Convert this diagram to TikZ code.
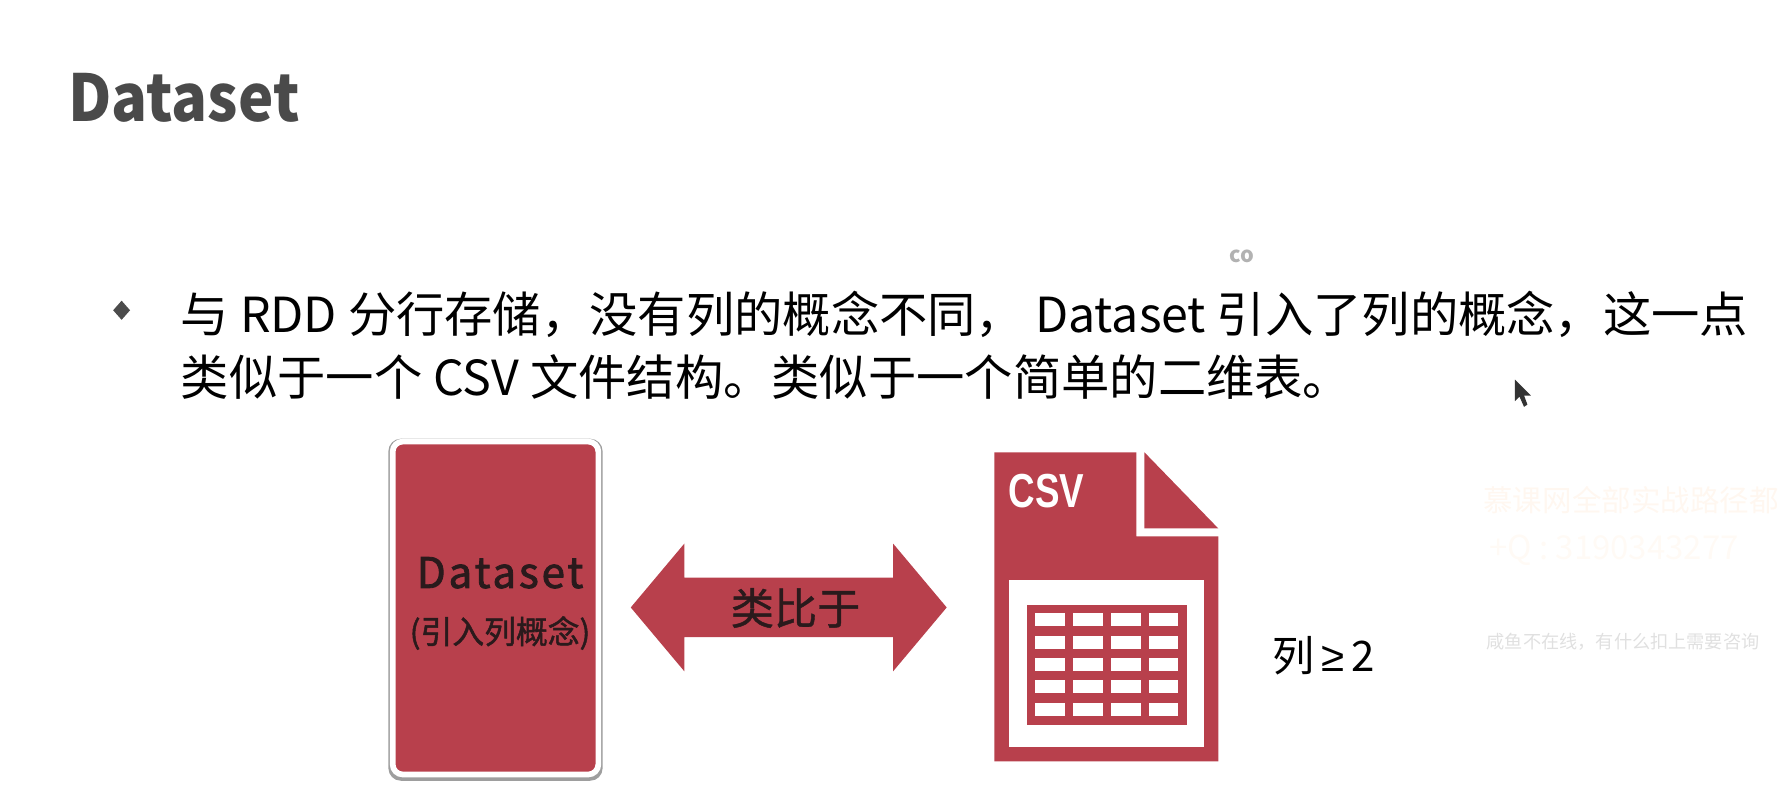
\documentclass[tikz,border=0pt]{standalone}
\usepackage{fontspec}
\setmainfont{Noto Sans CJK SC}
\newfontfamily\titlefont[FakeStretch=0.92]{Noto Sans CJK SC}
\newfontfamily\csvfont[FakeStretch=0.77]{Liberation Sans}
\newfontfamily\symbolfont{Liberation Sans}
\usepackage{xcolor}
\usetikzlibrary{shapes.geometric, shapes.arrows, positioning}
\definecolor{brick}{HTML}{B8404C}
\definecolor{titlegrey}{HTML}{4A4A4A}
\definecolor{inkdark}{HTML}{2A1A1C}

\begin{document}
\begin{tikzpicture}[
    x=1pt, y=-1pt,
    titletext/.style={anchor=base west, inner sep=0pt, text=titlegrey, font=\titlefont\bfseries\fontsize{57}{60}\selectfont},
    bodyline/.style={anchor=base west, inner sep=0pt, font=\fontsize{42.5}{50}\selectfont},
    dsshadow/.style={rectangle, fill=black!38, rounded corners=11pt, minimum width=188.5pt, minimum height=301pt, inner sep=0pt},
    dsbox/.style={rectangle, draw=white, line width=5pt, fill=brick, rounded corners=9pt, minimum width=181pt, minimum height=293pt, inner sep=0pt},
    boxlabel/.style={inner sep=0pt, text=inkdark},
    simarrow/.style={double arrow, fill=brick, inner sep=0pt, text height=26pt, text depth=26pt, minimum height=278pt, double arrow head extend=30pt, double arrow tip angle=100},
    faint/.style={anchor=west, inner sep=0pt}
]
\useasboundingbox (0,0) rectangle (1568,693.4);

\node[titletext] (title) at (60,107) {Dataset};
\node[text=black!30, inner sep=0pt, font=\rmfamily\bfseries\fontsize{19}{20}\selectfont] (co) at (1093,226) {co};

\node[diamond, fill=black!70, inner sep=0pt, minimum width=15pt, minimum height=17pt] (bullet) at (107,273) {};
\node[bodyline] (lineone) at (159,293) {与 RDD 分行存储，没有列的概念不同， Dataset 引入了列的概念，这一点};
\node[bodyline] (linetwo) at (159,348) {类似于一个 CSV 文件结构。类似于一个简单的二维表。};

\node[dsshadow] (dsback) at (436,536.5) {};
\node[dsbox] (dsrect) at (436,535) {};
\node[boxlabel, font=\addfontfeature{LetterSpace=7,FakeBold=2}\fontsize{37}{40}\selectfont] (dsname) at (440,504) {Dataset};
\node[boxlabel, font=\addfontfeature{FakeBold=1.5}\fontsize{28}{30}\selectfont] (dsnote) at (440,557) {(引入列概念)};

\node[simarrow] (similar) at (694,534.5) {};
\node[boxlabel, font=\addfontfeature{FakeBold=1}\fontsize{38}{40}\selectfont] (similartext) at (700,535) {类比于};

\fill[brick] (875,398) -- (1000,398) -- (1000,472) -- (1072,472) -- (1072,670) -- (875,670) -- cycle;
\fill[brick] (1007,398) -- (1072,465) -- (1007,465) -- cycle;
\fill[white] (888,510) rectangle (1059,657);
\fill[brick] (904,532) rectangle (1044,638);
\foreach \cx in {0,1,2,3}
  \foreach \cy in {0,1,2,3,4}
    \fill[white] ({911+\cx*33.3},{539.5+\cy*19.7}) rectangle ++(26,11.5);
\node[text=white, inner sep=0pt, font=\csvfont\bfseries\fontsize{42}{44}\selectfont] (csvlabel) at (921,432) {CSV};

\node[inner sep=0pt, font=\fontsize{37}{40}\selectfont] (columns) at (1165,577) {列\,{\symbolfont ≥}\,2};

\fill[black!80] (1333,334) -- (1333,353) -- (1337,349) -- (1341,358) -- (1344,356) -- (1341,348) -- (1347,348) -- cycle;

\node[faint, text=orange!6, font=\fontsize{26}{30}\selectfont] (markone) at (1305,440) {慕课网全部实战路径都};
\node[faint, text=orange!4, font=\fontsize{29}{32}\selectfont] (marktwo) at (1310,484) {+Q : 3190343277};
\node[faint, text=black!12, font=\fontsize{16}{18}\selectfont] (markthree) at (1308,565) {咸鱼不在线，有什么扣上需要咨询};
\end{tikzpicture}
\end{document}
